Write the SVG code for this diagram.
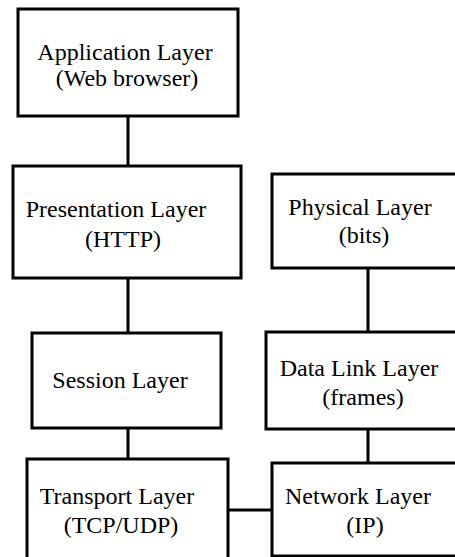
<svg xmlns="http://www.w3.org/2000/svg" width="455" height="557" viewBox="0 0 455 557">
<style>
.box{fill:#fff;stroke:#000;stroke-width:3}
.t{font-family:'Liberation Serif','DejaVu Serif',serif;font-size:24px;fill:#000;text-anchor:middle}
.c{stroke:#000;stroke-width:3;fill:none}
</style>
<rect width="455" height="557" fill="#fff"/>
<g id="connectors">
<line class="c" x1="128" y1="116" x2="128" y2="166"/>
<line class="c" x1="128" y1="278" x2="128" y2="333"/>
<line class="c" x1="128" y1="428" x2="128" y2="459"/>
<line class="c" x1="368" y1="268" x2="368" y2="332"/>
<line class="c" x1="368" y1="429" x2="368" y2="463"/>
<line class="c" x1="228" y1="510" x2="272" y2="510"/>
</g>
<g id="application">
<rect class="box" x="18" y="9" width="220" height="107"/>
<text class="t" font-family="Liberation Serif, serif" x="125" y="60">Application Layer</text>
<text class="t" font-family="Liberation Serif, serif" x="127" y="86">(Web browser)</text>
</g>
<g id="presentation">
<rect class="box" x="13" y="166" width="228" height="112"/>
<text class="t" x="116" y="217">Presentation Layer</text>
<text class="t" x="123" y="247">(HTTP)</text>
</g>
<g id="session">
<rect class="box" x="32" y="333" width="189" height="95"/>
<text class="t" x="120" y="388">Session Layer</text>
</g>
<g id="transport">
<rect class="box" x="27" y="459" width="201" height="110"/>
<text class="t" x="117" y="504">Transport Layer</text>
<text class="t" x="121" y="533">(TCP/UDP)</text>
</g>
<g id="physical">
<rect class="box" x="272" y="174" width="190" height="94"/>
<text class="t" x="360" y="215">Physical Layer</text>
<text class="t" x="364" y="243">(bits)</text>
</g>
<g id="datalink">
<rect class="box" x="266" y="332" width="196" height="97"/>
<text class="t" x="359" y="376">Data Link Layer</text>
<text class="t" x="363" y="405">(frames)</text>
</g>
<g id="network">
<rect class="box" x="272" y="463" width="190" height="93"/>
<text class="t" x="358" y="504">Network Layer</text>
<text class="t" x="365" y="533">(IP)</text>
</g>
</svg>
